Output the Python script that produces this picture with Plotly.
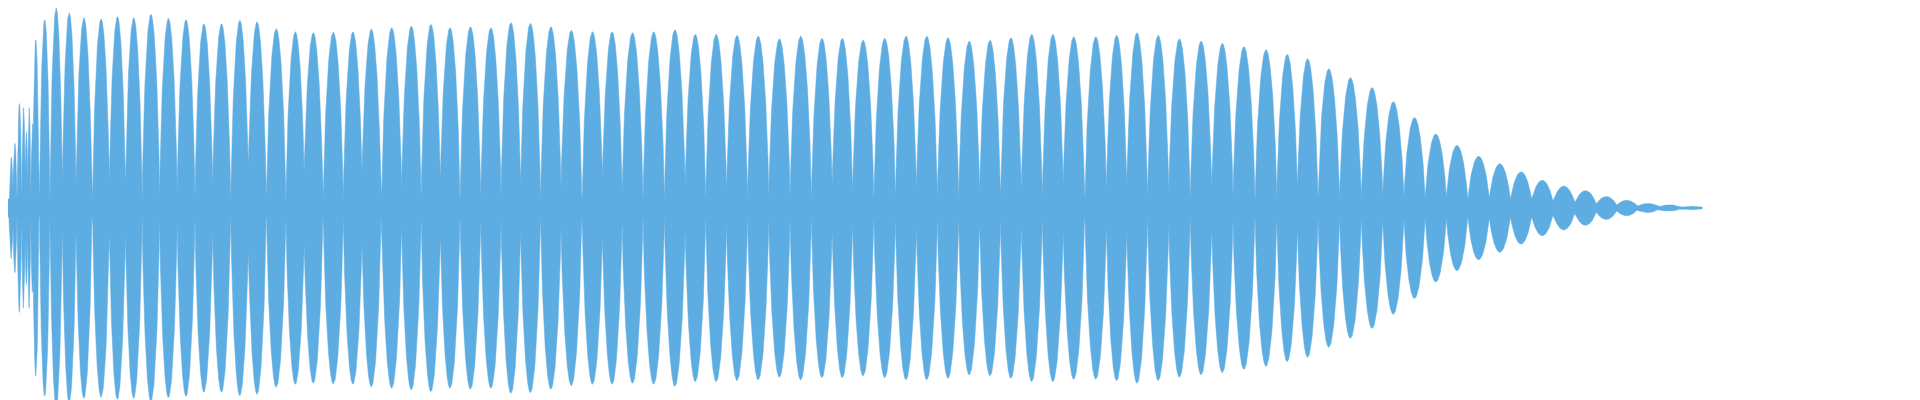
import numpy as np
import plotly.graph_objects as go

# Lobe (beat) centres, in sample units along the x axis
lobe_centers = [3.3, 6.9, 11.4, 15.5, 18.4, 21.2, 24.5, 27.8, 36.7, 48.2, 61.2, 75.9, 93.1, 109.4,
                125.7, 142.9, 160.4, 178.0, 195.9, 213.5, 231.8, 249.0, 268.2, 287.3, 305.3, 325.3,
                344.9, 363.3, 383.7, 403.3, 422.9, 442.0, 462.4, 482.9, 502.9, 522.4, 542.9, 563.3,
                584.5, 604.1, 624.5, 645.7, 666.9, 687.3, 708.2, 729.0, 750.2, 771.4, 792.7, 813.9,
                834.3, 855.1, 876.7, 898.0, 918.8, 940.0, 961.2, 982.0, 1002.9, 1023.7, 1044.9,
                1065.7, 1087.8, 1108.6, 1129.0, 1150.2, 1171.4, 1193.1, 1214.3, 1235.9, 1258.0,
                1279.2, 1299.6, 1320.8, 1342.4, 1364.1, 1385.3, 1406.5, 1427.8, 1449.0, 1470.6,
                1491.8, 1513.1, 1534.3, 1555.9, 1577.6, 1598.4, 1618.8, 1640.0, 1661.6, 1684.1]
# Peak amplitude of each lobe (normalised)
lobe_peaks = [0.25, 0.32, 0.52, 0.50, 0.38, 0.50, 0.42, 0.84, 0.94, 1.00, 0.975, 0.95, 0.945, 0.955,
              0.95, 0.967, 0.947, 0.94, 0.92, 0.92, 0.937, 0.93, 0.895, 0.88, 0.875, 0.878,
              0.88, 0.893, 0.90, 0.908, 0.917, 0.90, 0.905, 0.90, 0.925, 0.922, 0.905, 0.887,
              0.88, 0.88, 0.875, 0.88, 0.89, 0.867, 0.867, 0.862, 0.858, 0.845, 0.858, 0.847,
              0.847, 0.838, 0.847, 0.858, 0.858, 0.85, 0.833, 0.838, 0.85, 0.867, 0.867, 0.855,
              0.855, 0.862, 0.875, 0.862, 0.845, 0.833, 0.822, 0.805, 0.79, 0.767, 0.745, 0.695,
              0.65, 0.60, 0.53, 0.45, 0.367, 0.31, 0.255, 0.217, 0.175, 0.133, 0.105, 0.083,
              0.055, 0.037, 0.022, 0.015, 0.008]

c = np.array(lobe_centers)
a = np.array(lobe_peaks)
sp = np.gradient(c)
x = np.arange(0, 1694.5, 0.2)
env = np.zeros_like(x)
for ci, ai, wi in zip(c, a, sp):
    d = np.abs(x - ci)
    b = np.where(d < wi / 2, ai * np.clip(np.cos(np.pi * d / wi), 0, 1) ** 0.6, 0)
    env = np.maximum(env, b)
base = np.interp(x, c, np.minimum(0.045, 0.3 * a))
env = np.sqrt(env ** 2 + base ** 2)

xs = np.concatenate([x, x[::-1]])
ys = np.concatenate([env, -env[::-1]])

fig = go.Figure(go.Scatter(x=xs, y=ys, fill="toself", mode="lines",
                           line=dict(width=0.5, color="#5DADE2"),
                           fillcolor="#5DADE2", hoverinfo="skip"))
fig.update_layout(width=1920, height=400, margin=dict(l=0, r=0, t=0, b=0),
                  paper_bgcolor="white", plot_bgcolor="white", showlegend=False)
fig.update_xaxes(range=[0, 1920], visible=False)
fig.update_yaxes(range=[-1.0, 1.0], visible=False)
fig.write_html("out.html")
